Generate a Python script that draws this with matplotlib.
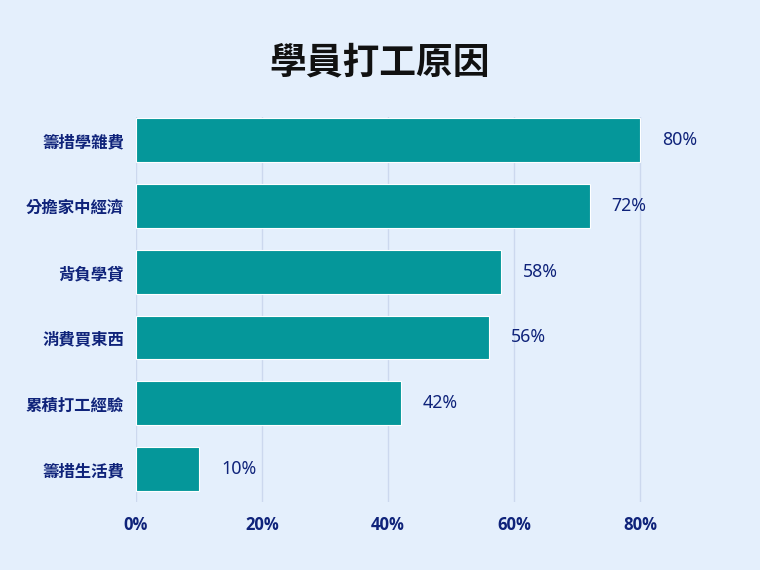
import matplotlib
matplotlib.use("Agg")
import matplotlib.pyplot as plt

plt.rcParams['font.family'] = ['Noto Sans CJK TC', 'DejaVu Sans']

# Survey data: reasons students take part-time jobs (percent)
reasons = ["籌措學雜費", "分擔家中經濟", "背負學貸", "消費買東西", "累積打工經驗", "籌措生活費"]
percents = [80, 72, 58, 56, 42, 10]
x_ticks = [0, 20, 40, 60, 80]
x_tick_labels = ["0%", "20%", "40%", "60%", "80%"]

bg = "#E4EFFC"
bar_color = "#05979A"
navy = "#0F237A"
grid_color = "#CCD8EE"

W, H = 760, 570
fig = plt.figure(figsize=(W / 100, H / 100), dpi=100, facecolor=bg)

# axes placed in pixel terms: 66 px per category row, 6.3 px per percent
left, right, top, bottom = 136, 703, 117, 502
ax = fig.add_axes([left / W, 1 - bottom / H, (right - left) / W, (bottom - top) / H])
ax.set_facecolor(bg)

ypos = list(range(len(reasons)))
bars = ax.barh(ypos, percents, height=0.667, color=bar_color,
               edgecolor="white", linewidth=0.8, zorder=3)

for b, v in zip(bars, percents):
    ax.annotate(f"{v}%", xy=(b.get_width(), b.get_y() + b.get_height() / 2),
                xytext=(15.8, 0), textcoords="offset points",
                ha="left", va="center", fontsize=12.8, color=navy,
                family=['Noto Sans', 'DejaVu Sans'])

ax.set_xlim(0, 90)
ax.set_ylim(len(reasons) - 0.5, -0.35)
ax.set_yticks(ypos)
ax.set_yticklabels(reasons, fontsize=11.8, fontweight="bold", color=navy)
ax.set_xticks(x_ticks)
ax.set_xticklabels(x_tick_labels, fontsize=12, fontweight="bold", color=navy,
                   family=['Open Sans', 'Noto Sans CJK TC', 'DejaVu Sans'])
ax.tick_params(axis="y", length=0, pad=8.6)
ax.tick_params(axis="x", length=0, pad=10)

ax.grid(axis="x", color=grid_color, linewidth=1, zorder=0)
ax.set_axisbelow(True)
for s in ax.spines.values():
    s.set_visible(False)

fig.text(0.5, 1 - 63 / H, "學員打工原因", ha="center", va="center",
         fontsize=26.5, fontweight="bold", color="#111111")

fig.savefig("out.png", dpi=100, facecolor=bg)
